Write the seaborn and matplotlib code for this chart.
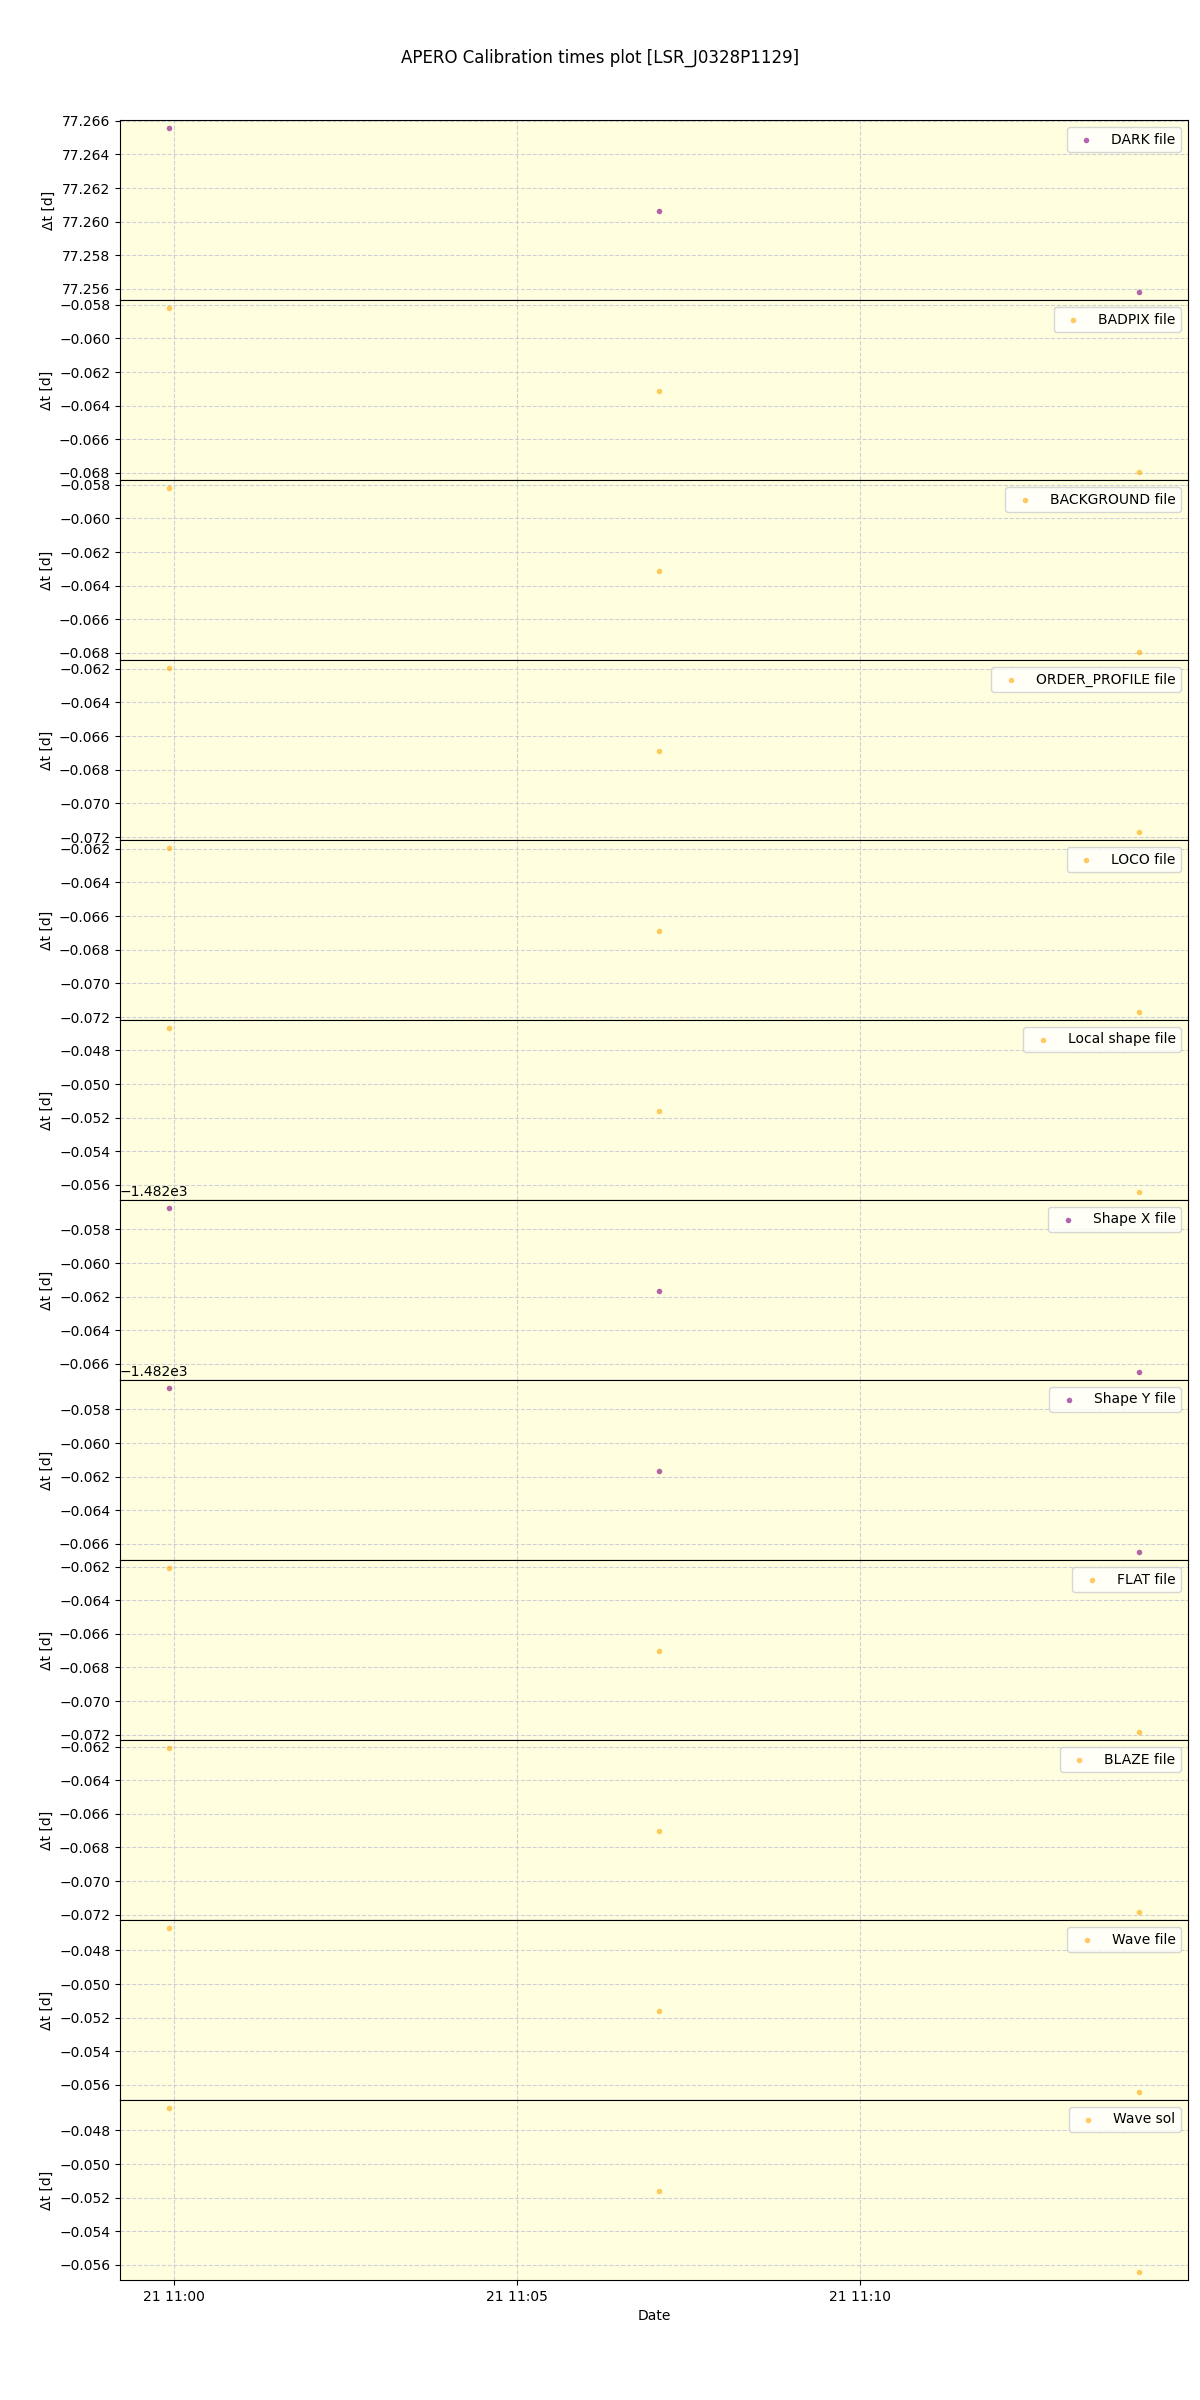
import pandas as pd
import matplotlib
matplotlib.use("Agg")
import matplotlib.pyplot as plt
import seaborn as sns

titulo = "APERO Calibration times plot [LSR_J0328P1129]"

# horario das observacoes
horarios = pd.to_datetime(["2021-09-21 10:59:55", "2021-09-21 11:07:04", "2021-09-21 11:14:05"])

rotulos = ["DARK file", "BADPIX file", "BACKGROUND file", "ORDER_PROFILE file",
           "LOCO file", "Local shape file", "Shape X file", "Shape Y file",
           "FLAT file", "BLAZE file", "Wave file", "Wave sol"]
cores = ["purple", "orange", "orange", "orange", "orange", "orange",
         "purple", "purple", "orange", "orange", "orange", "orange"]

dark_dt = [77.26556, 77.26065, 77.25583]
badpix_dt = [-0.05820, -0.06310, -0.06793]
background_dt = [-0.05820, -0.06310, -0.06793]
order_profile_dt = [-0.06196, -0.06686, -0.07169]
loco_dt = [-0.06196, -0.06686, -0.07169]
local_shape_dt = [-0.04668, -0.05158, -0.05641]
shape_x_dt = [-1482.05674, -1482.06164, -1482.06647]
shape_y_dt = [-1482.05674, -1482.06164, -1482.06647]
flat_dt = [-0.06210, -0.06700, -0.07183]
blaze_dt = [-0.06210, -0.06700, -0.07183]
wave_file_dt = [-0.04668, -0.05158, -0.05641]
wave_sol_dt = [-0.04668, -0.05158, -0.05641]

valores = [dark_dt, badpix_dt, background_dt, order_profile_dt, loco_dt,
           local_shape_dt, shape_x_dt, shape_y_dt, flat_dt, blaze_dt,
           wave_file_dt, wave_sol_dt]

fig, eixos = plt.subplots(len(rotulos), 1, figsize=(12, 24), sharex=True)
fig.subplots_adjust(left=0.1, right=0.99, top=0.95, bottom=0.05, hspace=0)
fig.suptitle(titulo, y=0.9795)

for ax, rotulo, cor, dt in zip(eixos, rotulos, cores, valores):
    df = pd.DataFrame({"data": horarios, "dt": dt})
    ax.set_facecolor("lightyellow")
    sns.scatterplot(data=df, x="data", y="dt", color=cor, alpha=0.6, s=16,
                    linewidth=0, label=rotulo, ax=ax)
    ax.grid(True, linestyle="--", color="#c4c4d4", alpha=0.8)
    ax.set_axisbelow(True)
    ax.legend(loc="upper right")
    ax.set_ylabel("Δt [d]")
    ax.set_xlabel("")

eixos[-1].set_xlabel("Date")

fig.savefig("out.png", dpi=100)
